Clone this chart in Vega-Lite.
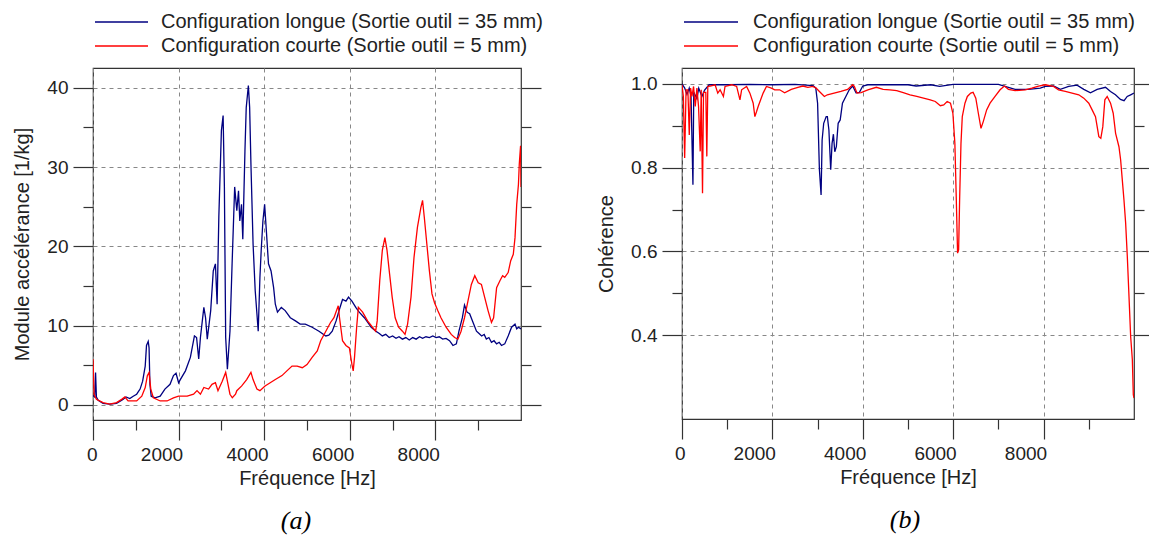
{
 "$schema": "https://vega.github.io/schema/vega-lite/v6.json",
 "padding": {"left": 12, "top": 11, "right": 0, "bottom": 0},
 "background": "white",
 "datasets": {
  "accL": [{"f":0,"v":1.2},{"f":40,"v":1.0},{"f":60,"v":4.1},{"f":80,"v":1.0},{"f":120,"v":0.6},{"f":235,"v":0.2},{"f":390,"v":0.1},{"f":550,"v":0.2},{"f":700,"v":0.7},{"f":770,"v":1.0},{"f":860,"v":0.8},{"f":940,"v":1.1},{"f":1020,"v":1.35},{"f":1100,"v":2.0},{"f":1160,"v":3.0},{"f":1220,"v":4.9},{"f":1250,"v":7.5},{"f":1290,"v":8.0},{"f":1310,"v":7.2},{"f":1330,"v":2.6},{"f":1360,"v":1.1},{"f":1450,"v":0.9},{"f":1570,"v":1.1},{"f":1680,"v":2.0},{"f":1800,"v":2.6},{"f":1880,"v":3.7},{"f":1940,"v":4.0},{"f":2000,"v":2.8},{"f":2040,"v":3.2},{"f":2160,"v":4.3},{"f":2275,"v":6.0},{"f":2370,"v":8.7},{"f":2420,"v":8.5},{"f":2470,"v":5.8},{"f":2510,"v":8.5},{"f":2590,"v":12.3},{"f":2630,"v":11.0},{"f":2670,"v":8.3},{"f":2750,"v":11.9},{"f":2810,"v":16.9},{"f":2860,"v":17.8},{"f":2900,"v":12.7},{"f":2940,"v":23.7},{"f":3000,"v":34.6},{"f":3040,"v":36.5},{"f":3070,"v":27.5},{"f":3100,"v":8.5},{"f":3140,"v":4.5},{"f":3200,"v":9.3},{"f":3250,"v":17.8},{"f":3310,"v":27.5},{"f":3360,"v":24.5},{"f":3400,"v":27.0},{"f":3430,"v":23.2},{"f":3470,"v":25.3},{"f":3500,"v":20.9},{"f":3520,"v":25.3},{"f":3550,"v":32.0},{"f":3580,"v":37.5},{"f":3630,"v":40.3},{"f":3660,"v":37.5},{"f":3690,"v":30.4},{"f":3740,"v":20.3},{"f":3790,"v":14.4},{"f":3830,"v":11.5},{"f":3860,"v":9.3},{"f":3900,"v":16.1},{"f":3930,"v":19.5},{"f":3970,"v":23.2},{"f":4010,"v":25.3},{"f":4050,"v":22.0},{"f":4100,"v":17.8},{"f":4160,"v":16.9},{"f":4220,"v":14.8},{"f":4260,"v":12.7},{"f":4310,"v":11.7},{"f":4400,"v":12.3},{"f":4490,"v":11.9},{"f":4610,"v":11.0},{"f":4730,"v":10.6},{"f":4840,"v":10.2},{"f":4960,"v":10.2},{"f":5120,"v":9.8},{"f":5280,"v":9.3},{"f":5440,"v":8.7},{"f":5510,"v":8.8},{"f":5590,"v":9.3},{"f":5680,"v":10.6},{"f":5760,"v":12.1},{"f":5830,"v":13.3},{"f":5910,"v":13.1},{"f":5970,"v":13.6},{"f":6050,"v":13.1},{"f":6140,"v":12.3},{"f":6220,"v":11.7},{"f":6340,"v":11.0},{"f":6420,"v":10.4},{"f":6500,"v":9.8},{"f":6610,"v":9.3},{"f":6690,"v":9.0},{"f":6760,"v":8.7},{"f":6840,"v":8.9},{"f":6920,"v":8.5},{"f":7000,"v":8.7},{"f":7080,"v":8.4},{"f":7150,"v":8.6},{"f":7230,"v":8.3},{"f":7310,"v":8.5},{"f":7390,"v":8.2},{"f":7470,"v":8.5},{"f":7550,"v":8.3},{"f":7630,"v":8.6},{"f":7700,"v":8.4},{"f":7780,"v":8.6},{"f":7860,"v":8.5},{"f":7940,"v":8.7},{"f":8016,"v":8.5},{"f":8090,"v":8.6},{"f":8170,"v":8.3},{"f":8250,"v":8.4},{"f":8330,"v":8.1},{"f":8410,"v":7.5},{"f":8490,"v":7.7},{"f":8550,"v":9.3},{"f":8630,"v":11.0},{"f":8680,"v":12.6},{"f":8740,"v":11.7},{"f":8800,"v":11.5},{"f":8880,"v":10.4},{"f":8960,"v":9.3},{"f":9020,"v":9.0},{"f":9080,"v":8.7},{"f":9140,"v":8.9},{"f":9190,"v":8.3},{"f":9250,"v":8.5},{"f":9310,"v":7.9},{"f":9370,"v":8.1},{"f":9430,"v":7.7},{"f":9490,"v":7.9},{"f":9545,"v":7.5},{"f":9620,"v":7.7},{"f":9700,"v":8.7},{"f":9780,"v":9.8},{"f":9860,"v":10.2},{"f":9900,"v":9.6},{"f":9940,"v":9.8},{"f":10000,"v":9.6}],
  "accC": [{"f":0,"v":5.8},{"f":25,"v":1.35},{"f":80,"v":0.7},{"f":235,"v":0.3},{"f":390,"v":0.1},{"f":550,"v":0.3},{"f":670,"v":0.7},{"f":745,"v":1.0},{"f":820,"v":0.5},{"f":1020,"v":0.5},{"f":1140,"v":1.1},{"f":1220,"v":2.2},{"f":1270,"v":3.7},{"f":1310,"v":4.1},{"f":1350,"v":2.0},{"f":1410,"v":0.9},{"f":1570,"v":0.5},{"f":1730,"v":0.5},{"f":1880,"v":0.9},{"f":2000,"v":1.1},{"f":2200,"v":1.1},{"f":2350,"v":1.35},{"f":2430,"v":1.8},{"f":2510,"v":1.35},{"f":2590,"v":2.2},{"f":2700,"v":2.0},{"f":2780,"v":2.6},{"f":2860,"v":2.8},{"f":2920,"v":1.8},{"f":3020,"v":3.0},{"f":3100,"v":4.1},{"f":3140,"v":3.0},{"f":3200,"v":1.35},{"f":3255,"v":0.9},{"f":3330,"v":1.35},{"f":3360,"v":1.8},{"f":3475,"v":2.4},{"f":3590,"v":3.2},{"f":3690,"v":4.1},{"f":3740,"v":3.2},{"f":3830,"v":2.0},{"f":3900,"v":1.8},{"f":4020,"v":2.4},{"f":4140,"v":2.8},{"f":4260,"v":3.2},{"f":4415,"v":3.7},{"f":4530,"v":4.3},{"f":4650,"v":4.9},{"f":4770,"v":4.9},{"f":4890,"v":4.7},{"f":5000,"v":5.1},{"f":5120,"v":6.0},{"f":5240,"v":6.8},{"f":5320,"v":8.1},{"f":5440,"v":9.3},{"f":5550,"v":10.4},{"f":5630,"v":11.0},{"f":5730,"v":12.5},{"f":5760,"v":11.0},{"f":5830,"v":8.1},{"f":5910,"v":7.5},{"f":5990,"v":7.2},{"f":6050,"v":5.1},{"f":6080,"v":4.3},{"f":6110,"v":6.0},{"f":6160,"v":9.8},{"f":6200,"v":12.3},{"f":6300,"v":11.7},{"f":6415,"v":10.6},{"f":6530,"v":9.8},{"f":6604,"v":9.3},{"f":6640,"v":10.6},{"f":6700,"v":15.7},{"f":6760,"v":19.5},{"f":6820,"v":21.1},{"f":6870,"v":19.5},{"f":6930,"v":16.5},{"f":6990,"v":13.6},{"f":7060,"v":11.0},{"f":7140,"v":9.8},{"f":7230,"v":9.3},{"f":7290,"v":8.9},{"f":7350,"v":10.2},{"f":7430,"v":13.6},{"f":7500,"v":18.6},{"f":7580,"v":22.4},{"f":7660,"v":24.9},{"f":7700,"v":25.8},{"f":7740,"v":23.7},{"f":7800,"v":20.3},{"f":7860,"v":16.9},{"f":7920,"v":14.0},{"f":7980,"v":12.9},{"f":8055,"v":11.9},{"f":8130,"v":11.0},{"f":8250,"v":9.8},{"f":8370,"v":8.9},{"f":8450,"v":8.5},{"f":8525,"v":8.3},{"f":8600,"v":9.3},{"f":8680,"v":11.0},{"f":8760,"v":13.1},{"f":8840,"v":15.2},{"f":8920,"v":16.3},{"f":9000,"v":15.4},{"f":9075,"v":15.2},{"f":9150,"v":13.6},{"f":9230,"v":11.9},{"f":9310,"v":10.4},{"f":9360,"v":11.0},{"f":9430,"v":14.8},{"f":9510,"v":15.7},{"f":9570,"v":16.3},{"f":9620,"v":16.1},{"f":9700,"v":16.7},{"f":9760,"v":18.2},{"f":9820,"v":19.0},{"f":9860,"v":21.1},{"f":9900,"v":25.3},{"f":9940,"v":27.8},{"f":9960,"v":30.4},{"f":9990,"v":32.7},{"f":10000,"v":27.5}],
  "cohL": [{"f":0,"v":1.0},{"f":60,"v":0.99},{"f":110,"v":0.975},{"f":160,"v":0.99},{"f":200,"v":0.97},{"f":242,"v":0.759},{"f":260,"v":0.98},{"f":330,"v":0.965},{"f":370,"v":0.99},{"f":440,"v":0.97},{"f":500,"v":0.985},{"f":600,"v":0.998},{"f":1000,"v":0.998},{"f":1500,"v":0.999},{"f":2000,"v":0.998},{"f":2500,"v":0.999},{"f":2900,"v":0.996},{"f":2960,"v":0.99},{"f":3000,"v":0.954},{"f":3040,"v":0.795},{"f":3077,"v":0.735},{"f":3100,"v":0.866},{"f":3135,"v":0.906},{"f":3190,"v":0.922},{"f":3216,"v":0.922},{"f":3250,"v":0.89},{"f":3290,"v":0.795},{"f":3320,"v":0.858},{"f":3350,"v":0.88},{"f":3380,"v":0.838},{"f":3415,"v":0.85},{"f":3455,"v":0.906},{"f":3500,"v":0.914},{"f":3550,"v":0.954},{"f":3625,"v":0.97},{"f":3700,"v":0.986},{"f":3776,"v":0.995},{"f":3850,"v":0.979},{"f":3925,"v":0.98},{"f":4000,"v":0.995},{"f":4110,"v":0.998},{"f":5000,"v":0.998},{"f":5180,"v":0.995},{"f":5500,"v":0.998},{"f":5700,"v":0.994},{"f":6000,"v":0.999},{"f":7000,"v":0.999},{"f":7220,"v":0.992},{"f":7370,"v":0.987},{"f":7665,"v":0.987},{"f":7926,"v":0.99},{"f":8037,"v":0.994},{"f":8220,"v":0.995},{"f":8370,"v":0.987},{"f":8555,"v":0.994},{"f":8740,"v":0.997},{"f":8890,"v":0.987},{"f":9037,"v":0.979},{"f":9185,"v":0.987},{"f":9370,"v":0.992},{"f":9480,"v":0.982},{"f":9590,"v":0.974},{"f":9700,"v":0.963},{"f":9780,"v":0.96},{"f":9850,"v":0.97},{"f":9926,"v":0.974},{"f":10000,"v":0.978}],
  "cohC": [{"f":0,"v":0.998},{"f":30,"v":0.97},{"f":59,"v":0.823},{"f":90,"v":0.986},{"f":130,"v":0.986},{"f":161,"v":0.878},{"f":190,"v":0.99},{"f":220,"v":0.97},{"f":256,"v":0.994},{"f":293,"v":0.946},{"f":330,"v":0.99},{"f":366,"v":0.946},{"f":403,"v":0.839},{"f":425,"v":0.986},{"f":454,"v":0.739},{"f":476,"v":0.98},{"f":527,"v":0.98},{"f":549,"v":0.827},{"f":571,"v":0.994},{"f":623,"v":0.995},{"f":733,"v":0.998},{"f":791,"v":0.978},{"f":843,"v":0.986},{"f":916,"v":0.97},{"f":952,"v":0.994},{"f":1100,"v":0.998},{"f":1209,"v":0.994},{"f":1282,"v":0.962},{"f":1319,"v":0.986},{"f":1429,"v":0.994},{"f":1502,"v":0.978},{"f":1575,"v":0.954},{"f":1612,"v":0.922},{"f":1650,"v":0.934},{"f":1685,"v":0.946},{"f":1740,"v":0.962},{"f":1795,"v":0.978},{"f":1868,"v":0.994},{"f":1978,"v":0.99},{"f":2051,"v":0.986},{"f":2161,"v":0.986},{"f":2271,"v":0.979},{"f":2418,"v":0.987},{"f":2564,"v":0.992},{"f":2674,"v":0.995},{"f":2784,"v":0.992},{"f":2894,"v":0.994},{"f":2967,"v":0.99},{"f":3040,"v":0.982},{"f":3150,"v":0.97},{"f":3216,"v":0.974},{"f":3365,"v":0.978},{"f":3515,"v":0.982},{"f":3664,"v":0.987},{"f":3776,"v":0.998},{"f":3813,"v":0.994},{"f":3873,"v":0.978},{"f":3963,"v":0.979},{"f":4112,"v":0.986},{"f":4300,"v":0.992},{"f":4450,"v":0.987},{"f":4600,"v":0.986},{"f":4750,"v":0.984},{"f":4895,"v":0.979},{"f":5045,"v":0.974},{"f":5194,"v":0.97},{"f":5343,"v":0.966},{"f":5493,"v":0.962},{"f":5604,"v":0.958},{"f":5716,"v":0.948},{"f":5790,"v":0.95},{"f":5866,"v":0.958},{"f":5940,"v":0.954},{"f":5993,"v":0.93},{"f":6037,"v":0.858},{"f":6067,"v":0.731},{"f":6097,"v":0.596},{"f":6120,"v":0.604},{"f":6142,"v":0.723},{"f":6172,"v":0.858},{"f":6201,"v":0.922},{"f":6260,"v":0.954},{"f":6313,"v":0.97},{"f":6388,"v":0.978},{"f":6440,"v":0.98},{"f":6500,"v":0.966},{"f":6556,"v":0.93},{"f":6615,"v":0.894},{"f":6665,"v":0.91},{"f":6740,"v":0.938},{"f":6815,"v":0.954},{"f":6926,"v":0.97},{"f":7037,"v":0.986},{"f":7133,"v":0.995},{"f":7222,"v":0.987},{"f":7370,"v":0.984},{"f":7593,"v":0.986},{"f":7740,"v":0.99},{"f":7889,"v":0.995},{"f":8037,"v":0.998},{"f":8220,"v":0.994},{"f":8330,"v":0.986},{"f":8480,"v":0.982},{"f":8630,"v":0.978},{"f":8778,"v":0.974},{"f":8889,"v":0.966},{"f":9000,"v":0.954},{"f":9074,"v":0.938},{"f":9148,"v":0.922},{"f":9185,"v":0.898},{"f":9222,"v":0.874},{"f":9266,"v":0.87},{"f":9310,"v":0.898},{"f":9355,"v":0.962},{"f":9407,"v":0.97},{"f":9481,"v":0.954},{"f":9540,"v":0.93},{"f":9593,"v":0.882},{"f":9667,"v":0.85},{"f":9704,"v":0.819},{"f":9741,"v":0.771},{"f":9778,"v":0.723},{"f":9815,"v":0.668},{"f":9852,"v":0.588},{"f":9889,"v":0.493},{"f":9926,"v":0.397},{"f":9963,"v":0.342},{"f":9985,"v":0.258},{"f":10000,"v":0.25}]
 },
 "spacing": 161,
 "bounds": "flush",
 "hconcat": [
  {
   "width": 428, "height": 352,
   "title": {"text": "(a)", "orient": "bottom", "frame": "group", "anchor": "middle", "dx": -11, "offset": 20},
   "layer": [
    {"data": {"name": "accL"}, "mark": {"type": "line", "strokeWidth": 1.3, "clip": true},
     "encoding": {
      "x": {"field": "f", "type": "quantitative", "scale": {"domain": [0, 10000], "nice": false, "zero": false},
        "axis": {"values": [0,1000,2000,3000,4000,5000,6000,7000,8000,9000], "format": "d", "labelExpr": "datum.value % 2000 === 0 ? datum.label : ''", "title": "Fréquence [Hz]", "domain": false, "grid": true,
          "tickSize": {"condition": {"test": "datum.value % 2000 === 0", "value": 20}, "value": 10},
          "gridOpacity": {"condition": {"test": "datum.value % 2000 === 0", "value": 1}, "value": 0},
          "labelAlign": "right", "labelOffset": 4, "labelPadding": 5, "labelFlush": false, "labelOverlap": false, "titlePadding": 4}},
      "y": {"field": "v", "type": "quantitative", "scale": {"domain": [-1.9, 42.5], "nice": false, "zero": false},
        "axis": {"orient": "left", "values": [0,5,10,15,20,25,30,35,40], "labelExpr": "datum.value % 10 === 0 ? datum.label : ''", "title": "Module accélérance [1/kg]", "domain": false, "grid": true,
          "tickSize": {"condition": {"test": "datum.value % 10 === 0", "value": 20}, "value": 10},
          "gridOpacity": {"condition": {"test": "datum.value % 10 === 0", "value": 1}, "value": 0},
          "labelPadding": 5, "titlePadding": 14, "labelOverlap": false, "labelFlush": false}},
      "color": {"datum": "Configuration longue (Sortie outil = 35 mm)", "type": "nominal",
        "scale": {"domain": ["Configuration longue (Sortie outil = 35 mm)", "Configuration courte (Sortie outil = 5 mm)"], "range": ["#000080", "#FF0000"]},
        "legend": {"orient": "none", "legendX": 1, "legendY": -56, "title": null, "direction": "vertical", "symbolType": "stroke", "symbolSize": 2809, "symbolStrokeWidth": 1.3, "labelOffset": 12, "clipHeight": 20, "rowPadding": 4, "padding": 0, "labelLimit": 0}}
     }},
    {"data": {"name": "accC"}, "mark": {"type": "line", "strokeWidth": 1.3, "clip": true},
     "encoding": {
      "x": {"field": "f", "type": "quantitative", "scale": {"domain": [0, 10000], "nice": false, "zero": false}},
      "y": {"field": "v", "type": "quantitative", "scale": {"domain": [-1.9, 42.5], "nice": false, "zero": false},
        "axis": {"orient": "right", "values": [0,5,10,15,20,25,30,35,40], "labels": false, "title": null, "domain": false, "grid": false,
          "tickSize": {"condition": {"test": "datum.value % 10 === 0", "value": 20}, "value": 10}}},
      "color": {"datum": "Configuration courte (Sortie outil = 5 mm)", "type": "nominal",
        "scale": {"domain": ["Configuration longue (Sortie outil = 35 mm)", "Configuration courte (Sortie outil = 5 mm)"], "range": ["#000080", "#FF0000"]},
        "legend": {"orient": "none", "legendX": 1, "legendY": -56, "title": null, "direction": "vertical", "symbolType": "stroke", "symbolSize": 2809, "symbolStrokeWidth": 1.3, "labelOffset": 12, "clipHeight": 20, "rowPadding": 4, "padding": 0, "labelLimit": 0}}
     }}
   ],
   "resolve": {"axis": {"y": "independent"}}
  },
  {
   "width": 452, "height": 351,
   "title": {"text": "(b)", "orient": "bottom", "frame": "group", "anchor": "middle", "dx": -3, "offset": 20},
   "layer": [
    {"data": {"name": "cohL"}, "mark": {"type": "line", "strokeWidth": 1.3, "clip": true},
     "encoding": {
      "x": {"field": "f", "type": "quantitative", "scale": {"domain": [0, 10000], "nice": false, "zero": false},
        "axis": {"values": [0,1000,2000,3000,4000,5000,6000,7000,8000,9000], "format": "d", "labelExpr": "datum.value % 2000 === 0 ? datum.label : ''", "title": "Fréquence [Hz]", "domain": false, "grid": true,
          "tickSize": {"condition": {"test": "datum.value % 2000 === 0", "value": 20}, "value": 10},
          "gridOpacity": {"condition": {"test": "datum.value % 2000 === 0", "value": 1}, "value": 0},
          "labelAlign": "right", "labelOffset": 3, "labelPadding": 5, "labelFlush": false, "labelOverlap": false, "titlePadding": 4}},
      "y": {"field": "v", "type": "quantitative", "scale": {"domain": [0.2, 1.038], "nice": false, "zero": false},
        "axis": {"orient": "left", "values": [0.4,0.5,0.6,0.7,0.8,0.9,1.0], "format": ".1f", "labelExpr": "round(datum.value * 10) % 2 === 0 ? datum.label : ''", "title": "Cohérence", "domain": false, "grid": true,
          "tickSize": {"condition": {"test": "round(datum.value * 10) % 2 === 0", "value": 20}, "value": 10},
          "gridOpacity": {"condition": {"test": "round(datum.value * 10) % 2 === 0", "value": 1}, "value": 0},
          "labelPadding": 5, "titlePadding": 14, "labelOverlap": false, "labelFlush": false}},
      "color": {"datum": "Configuration longue (Sortie outil = 35 mm)", "type": "nominal",
        "scale": {"domain": ["Configuration longue (Sortie outil = 35 mm)", "Configuration courte (Sortie outil = 5 mm)"], "range": ["#000080", "#FF0000"]},
        "legend": {"orient": "none", "legendX": 1, "legendY": -56, "title": null, "direction": "vertical", "symbolType": "stroke", "symbolSize": 2916, "symbolStrokeWidth": 1.3, "labelOffset": 14, "clipHeight": 20, "rowPadding": 4, "padding": 0, "labelLimit": 0}}
     }},
    {"data": {"name": "cohC"}, "mark": {"type": "line", "strokeWidth": 1.3, "clip": true},
     "encoding": {
      "x": {"field": "f", "type": "quantitative", "scale": {"domain": [0, 10000], "nice": false, "zero": false}},
      "y": {"field": "v", "type": "quantitative", "scale": {"domain": [0.2, 1.038], "nice": false, "zero": false},
        "axis": {"orient": "right", "values": [0.4,0.5,0.6,0.7,0.8,0.9,1.0], "labels": false, "title": null, "domain": false, "grid": false,
          "tickSize": {"condition": {"test": "round(datum.value * 10) % 2 === 0", "value": 20}, "value": 10}}},
      "color": {"datum": "Configuration courte (Sortie outil = 5 mm)", "type": "nominal",
        "scale": {"domain": ["Configuration longue (Sortie outil = 35 mm)", "Configuration courte (Sortie outil = 5 mm)"], "range": ["#000080", "#FF0000"]},
        "legend": {"orient": "none", "legendX": 1, "legendY": -56, "title": null, "direction": "vertical", "symbolType": "stroke", "symbolSize": 2916, "symbolStrokeWidth": 1.3, "labelOffset": 14, "clipHeight": 20, "rowPadding": 4, "padding": 0, "labelLimit": 0}}
     }}
   ],
   "resolve": {"axis": {"y": "independent"}}
  }
 ],
 "resolve": {"scale": {"x": "independent", "y": "independent", "color": "independent"}, "legend": {"color": "independent"}, "axis": {"x": "independent", "y": "independent"}},
 "config": {
  "font": "Liberation Sans",
  "view": {"stroke": "#333333", "strokeWidth": 1.2},
  "axis": {"labelFont": "Liberation Sans", "titleFont": "Liberation Sans", "labelFontSize": 19, "titleFontSize": 20, "titleFontWeight": "normal", "labelColor": "#222222", "titleColor": "#222222", "tickColor": "#333333", "tickWidth": 1.2, "gridColor": "#888888", "gridDash": [4, 4], "gridWidth": 1},
  "legend": {"labelFont": "Liberation Sans", "labelFontSize": 20, "labelColor": "#222222"},
  "title": {"font": "Liberation Serif", "fontStyle": "italic", "fontSize": 26, "fontWeight": "normal", "color": "#000000"}
 }
}
